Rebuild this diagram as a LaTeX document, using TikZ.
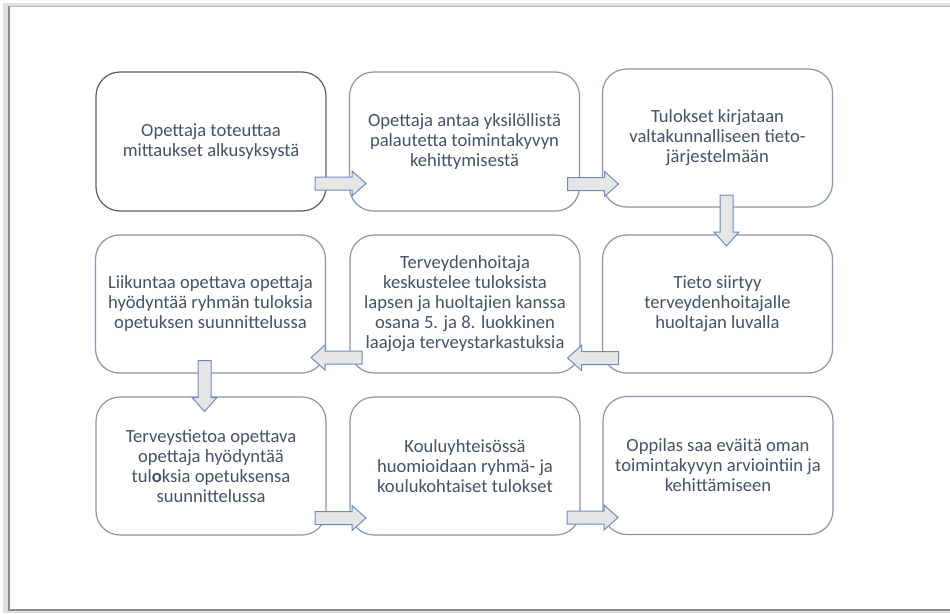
\documentclass[tikz,border=0pt]{standalone}
\usepackage{fontspec}
\setmainfont{Carlito}
\definecolor{txt}{HTML}{465266}
\definecolor{boxline}{HTML}{8A96A8}
\definecolor{firstline}{HTML}{5E5E5E}
\definecolor{arrfill}{HTML}{E6E6E6}
\definecolor{arrline}{HTML}{6F8CC0}
\begin{document}
\begin{tikzpicture}[x=1pt,y=-1pt,
  stepbox/.style={draw=boxline, line width=1.2pt, rounded corners=24pt, fill=white,
    minimum width=230pt, minimum height=138pt, align=center, text=txt,
    font=\fontsize{18.6}{20}\selectfont, inner sep=4pt},
  arrowstyle/.style={draw=arrline, fill=arrfill, line width=1pt, line join=miter},
  barrow/.pic={\draw[arrowstyle] (0,-6.5) -- (37,-6.5) -- (37,-12.5) -- (51,0) -- (37,12.5) -- (37,6.5) -- (0,6.5) -- cycle;}
]
\useasboundingbox (0,0) rectangle (950,613);
% page frame with shadow
\fill[black!12] (3,3) rectangle (960,613);
\fill[white] (9,6) rectangle (960,610);
\draw[black!28, line width=1pt] (9,6) -- (960,6);
\draw[black!45, line width=1.2pt] (9,6) -- (9,610) -- (960,610);

% boxes
\node[stepbox, draw=firstline, minimum height=139pt] (b1) at (211,141.5) {Opettaja toteuttaa\\mittaukset alkusyksystä};
\node[stepbox, minimum height=139pt] (b2) at (464.5,141.5) {Opettaja antaa yksilöllistä\\palautetta toimintakyvyn\\kehittymisestä};
\node[stepbox] (b3) at (717.5,138) {Tulokset kirjataan\\valtakunnalliseen tieto-\\järjestelmään};
\node[stepbox] (b4) at (717.5,304) {Tieto siirtyy\\terveydenhoitajalle\\huoltajan luvalla};
\node[stepbox] (b5) at (465,304) {Terveydenhoitaja\\keskustelee tuloksista\\lapsen ja huoltajien kanssa\\osana 5. ja 8. luokkinen\\laajoja terveystarkastuksia};
\node[stepbox] (b6) at (210.5,304) {Liikuntaa opettava opettaja\\hyödyntää ryhmän tuloksia\\opetuksen suunnittelussa};
\node[stepbox] (b7) at (211,466) {Terveystietoa opettava\\opettaja hyödyntää\\tul\textbf{o}ksia opetuksensa\\suunnittelussa};
\node[stepbox] (b8) at (465,466) {Kouluyhteisössä\\huomioidaan ryhmä- ja\\koulukohtaiset tulokset};
\node[stepbox] (b9) at (718,465.5) {Oppilas saa eväitä oman\\toimintakyvyn arviointiin ja\\kehittämiseen};

% block arrows
\pic at (315,183.5) {barrow};
\pic at (567.5,184) {barrow};
\pic[rotate=-90] at (726.5,195) {barrow};
\pic[rotate=180] at (618.5,358) {barrow};
\pic[rotate=180] at (362,357.5) {barrow};
\pic[rotate=-90] at (204.5,360.5) {barrow};
\pic at (315,518) {barrow};
\pic at (567,517.5) {barrow};
\end{tikzpicture}
\end{document}
